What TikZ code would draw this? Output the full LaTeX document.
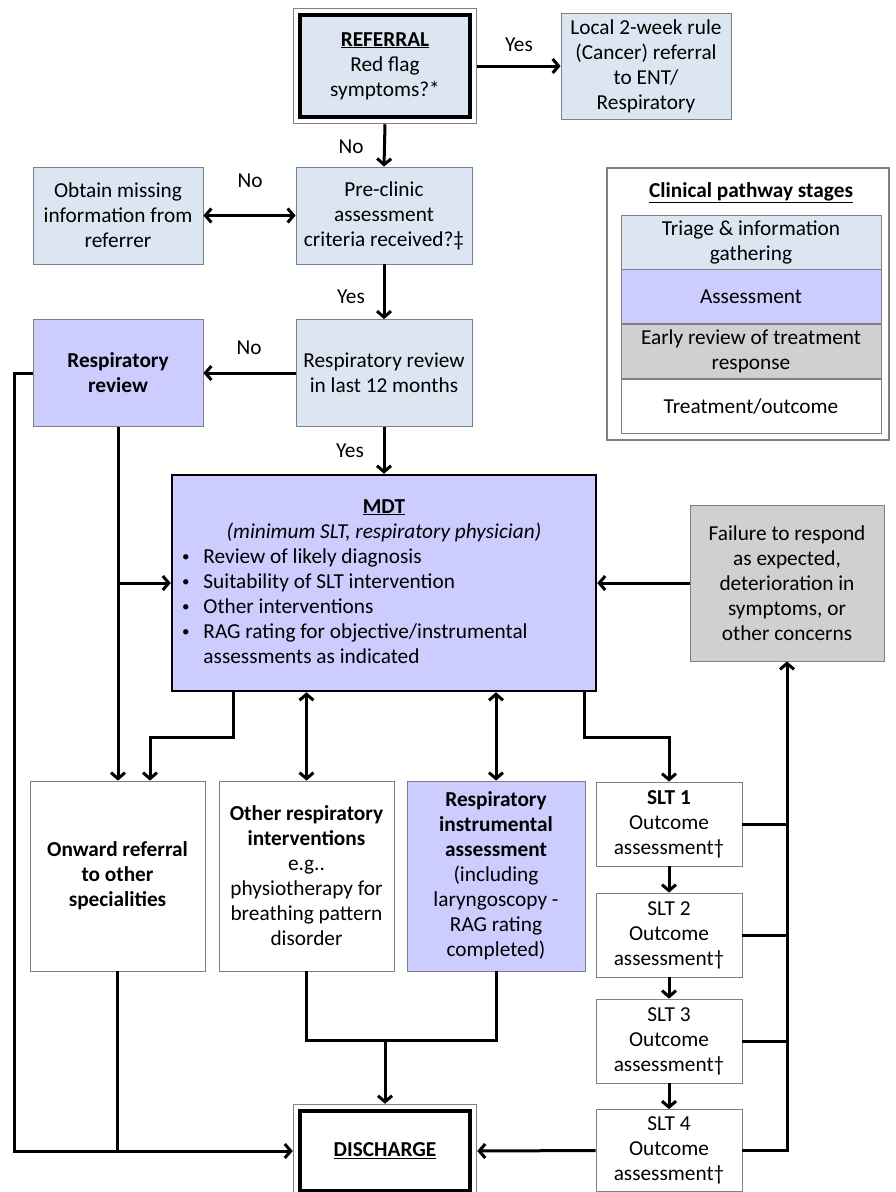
\documentclass[tikz,border=0pt]{standalone}
\usepackage{fontspec}
\setmainfont{Carlito}
\usetikzlibrary{arrows.meta,positioning,fit}

\definecolor{triage}{RGB}{220,230,242}
\definecolor{assess}{RGB}{204,204,255}
\definecolor{early}{RGB}{208,208,208}
\definecolor{edge}{RGB}{128,128,128}

% small raised bullet for the MDT list
\newcommand{\mdtdot}{\raisebox{1.5pt}{\fontsize{15}{15}\selectfont\textbullet}}

\begin{document}
\begin{tikzpicture}[x=1pt, y=-1pt,
  font=\fontsize{21.3}{25}\selectfont,
  >={Straight Barb[length=6pt,width=14pt]},
  flowbox/.style = {draw=edge, line width=.8pt, align=center, inner sep=2pt},
  triagebox/.style = {flowbox, fill=triage},
  assessbox/.style = {flowbox, fill=assess},
  earlybox/.style = {flowbox, fill=early},
  outcomebox/.style = {flowbox, fill=white},
  endbox/.style = {draw=black, line width=4.5pt, align=center, inner sep=2pt,
                   minimum width=170pt, minimum height=102pt},
  endframe/.style = {draw=edge, line width=1pt, inner sep=4.5pt},
  mdtbox/.style = {draw=black, line width=2.5pt, fill=assess, inner sep=0pt},
  keybox/.style = {minimum width=260pt, minimum height=54pt},
  sltbox/.style = {outcomebox, minimum width=146pt, minimum height=84pt},
  wire/.style = {line width=3pt},
  yesno/.style = {inner sep=0pt}
]
  \useasboundingbox (0,0) rectangle (896,1192);

  % Top of the pathway
  \node[endbox, fill=triage] (referral) at (385,66)
    {\underline{\textbf{REFERRAL}}\\Red flag\\symptoms?*};
  \node[endframe, fit=(referral)] (referralframe) {};
  \node[triagebox, minimum width=170pt, minimum height=106pt] (local) at (646,66)
    {Local 2-week rule\\(Cancer) referral\\to ENT/\\Respiratory};
  \node[triagebox, minimum width=170pt, minimum height=97pt] (obtain) at (118,215.5)
    {Obtain missing\\information from\\referrer};
  \node[triagebox, minimum width=176pt, minimum height=97pt] (preclinic) at (384,215.5)
    {Pre-clinic\\assessment\\criteria received?‡};
  \node[assessbox, minimum width=170pt, minimum height=107pt] (respreview) at (118,373)
    {\textbf{Respiratory}\\\textbf{review}};
  \node[triagebox, minimum width=176pt, minimum height=107pt] (review12) at (384,373)
    {Respiratory review\\in last 12 months};

  % Key of stages
  \node[draw=edge, line width=1.2pt, minimum width=282pt, minimum height=272pt] (legend) at (748,304) {};
  \node (legtitle) at (751,193) {\underline{\textbf{Clinical pathway stages}}};
  \node[triagebox, keybox] (keytriage) at (751,242) {Triage \& information\\gathering};
  \node[assessbox, keybox, below=0pt of keytriage] (keyassess) {Assessment};
  \node[earlybox, keybox, below=0pt of keyassess] (keyearly) {Early review of treatment\\response};
  \node[outcomebox, keybox, below=0pt of keyearly] (keyoutcome) {Treatment/outcome};

  % MDT and review of response
  \node[mdtbox, minimum width=424pt, minimum height=216pt] (mdt) at (384,583) {%
    \begin{tabular}{@{}l@{\hspace{14pt}}l@{}}
      \multicolumn{2}{@{}c@{}}{\makebox[404pt]{\underline{\textbf{MDT}}}}\\
      \multicolumn{2}{@{}c@{}}{\makebox[404pt]{\textit{(minimum SLT, respiratory physician)}}}\\
      \mdtdot & Review of likely diagnosis\\
      \mdtdot & Suitability of SLT intervention\\
      \mdtdot & Other interventions\\
      \mdtdot & RAG rating for objective/instrumental\\
              & assessments as indicated
    \end{tabular}};
  \node[earlybox, minimum width=194pt, minimum height=156pt] (failure) at (787,583)
    {Failure to respond\\as expected,\\deterioration in\\symptoms, or\\other concerns};

  % Treatment row
  \node[outcomebox, minimum width=175pt, minimum height=190pt] (onward) at (117.5,876)
    {\textbf{Onward referral}\\\textbf{to other}\\\textbf{specialities}};
  \node[outcomebox, minimum width=175pt, minimum height=190pt] (other) at (306.5,876)
    {\textbf{Other respiratory}\\\textbf{interventions}\\e.g..\\physiotherapy for\\breathing pattern\\disorder};
  \node[assessbox, minimum width=178pt, minimum height=190pt] (instr) at (496,876)
    {\textbf{Respiratory}\\\textbf{instrumental}\\\textbf{assessment}\\(including\\laryngoscopy -\\RAG rating\\completed)};
  \node[sltbox] (slt1) at (669,824) {\textbf{SLT 1}\\Outcome\\assessment†};
  \node[sltbox] (slt2) at (669,935) {SLT 2\\Outcome\\assessment†};
  \node[sltbox] (slt3) at (669,1041) {SLT 3\\Outcome\\assessment†};
  \node[sltbox, minimum height=82pt] (slt4) at (669,1150.5) {SLT 4\\Outcome\\assessment†};
  \node[endbox, fill=white, minimum height=80pt] (discharge) at (385,1151)
    {\underline{\textbf{DISCHARGE}}};
  \node[endframe, fit=(discharge)] (dischargeframe) {};

  % Yes / No labels
  \node[yesno] (yesa) at (519,45) {Yes};
  \node[yesno] (noa) at (351,147) {No};
  \node[yesno] (nob) at (250,181) {No};
  \node[yesno] (yesb) at (351,297) {Yes};
  \node[yesno] (noc) at (249,348) {No};
  \node[yesno] (yesc) at (350,451) {Yes};

  % Connectors, top half
  \draw[wire,->] (referralframe.east) -- (local.west);
  \draw[wire,->] (referralframe.south) -- (preclinic.north);
  \draw[wire,<->] (obtain.east) -- (preclinic.west);
  \draw[wire,->] (preclinic.south) -- (review12.north);
  \draw[wire,->] (review12.west) -- (respreview.east);
  \draw[wire,->] (review12.south) -- (mdt.north);
  \draw[wire,->] (respreview.south) -- (respreview.south |- onward.north);
  \draw[wire,->] (respreview.south |- mdt.west) -- (mdt.west);
  \draw[wire,->] (respreview.west) -- ++(-18,0) |- (dischargeframe.west);
  \draw[wire,->] (failure.west) -- (mdt.east);

  % Connectors below the MDT
  \draw[wire,->] ([xshift=-151pt]mdt.south) -- ++(0,45) -| ([xshift=32.5pt]onward.north);
  \draw[wire,<->] (mdt.south -| other.north) -- (other.north);
  \draw[wire,<->] (mdt.south -| instr.north) -- (instr.north);
  \draw[wire,->] ([xshift=200pt]mdt.south) -- ++(0,45) -| (slt1.north);
  \draw[wire,->] (slt1.south) -- (slt2.north);
  \draw[wire,->] (slt2.south) -- (slt3.north);
  \draw[wire,->] (slt3.south) -- (slt4.north);
  \draw[wire] (slt1.east) -- (slt1.east -| failure.south);
  \draw[wire] (slt2.east) -- (slt2.east -| failure.south);
  \draw[wire] (slt3.east) -- (slt3.east -| failure.south);
  \draw[wire,->] (slt4.east) -| (failure.south);

  % Into discharge
  \draw[wire] (other.south) -- ++(0,69) coordinate (otherfoot) -| (instr.south);
  \draw[wire,->] (otherfoot -| dischargeframe.north) -- (dischargeframe.north);
  \draw[wire] (onward.south) -- (onward.south |- dischargeframe.west);
  \draw[wire,->] (slt4.west) -- (dischargeframe.east);
\end{tikzpicture}
\end{document}
